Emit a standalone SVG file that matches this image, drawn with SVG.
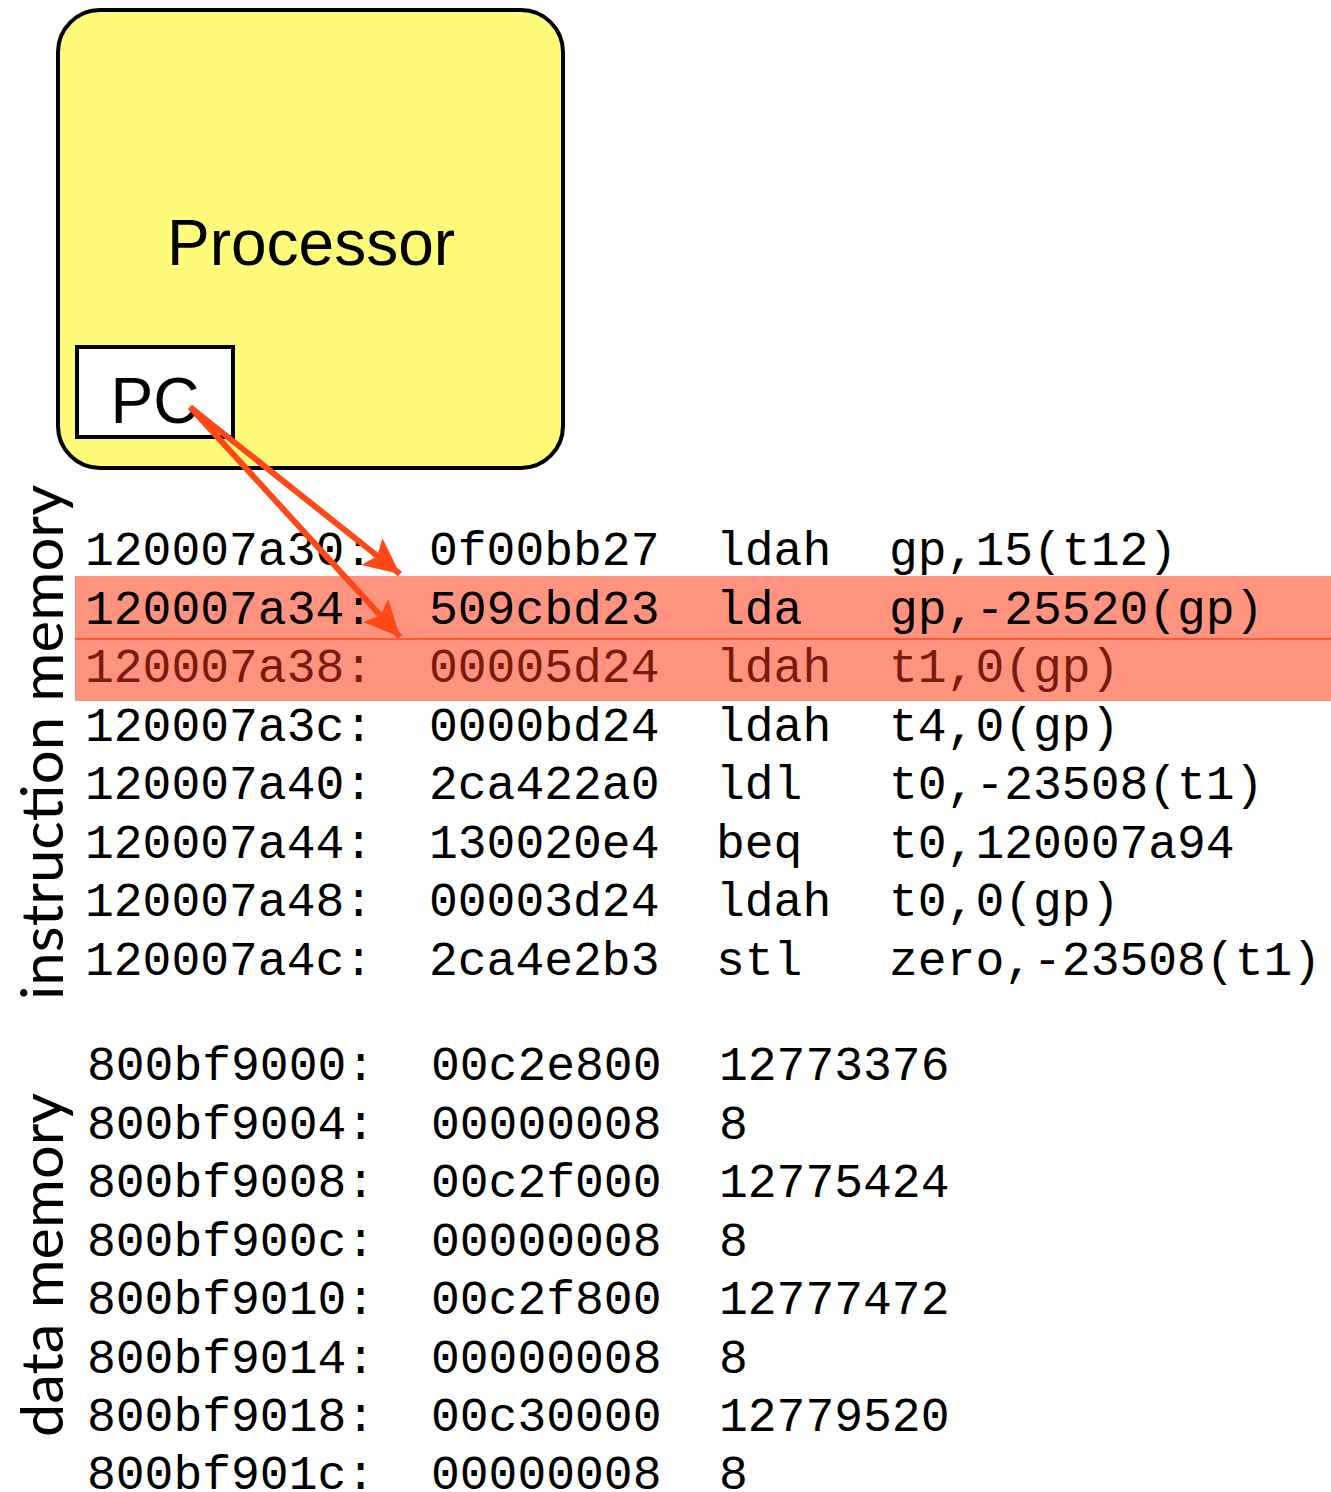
<svg xmlns="http://www.w3.org/2000/svg" width="1331" height="1492" viewBox="0 0 1331 1492">
<defs>
<style>
.mono{font-family:"Liberation Mono","Courier New",monospace;font-size:48px;fill:#000;}
.hl2{fill:#7a1a08;}
.sans{font-family:"Liberation Sans",Arial,sans-serif;fill:#000;}
.lbl{font-family:Lato,"Open Sans",sans-serif;font-size:58px;fill:#000;}
.arrow{stroke:#ff4818;stroke-width:6;fill:none;marker-end:url(#ah);}
</style>
<marker id="ah" markerUnits="userSpaceOnUse" markerWidth="40" markerHeight="36" refX="36" refY="17" orient="auto">
<path d="M0,0 L36,17 L0,34 L7,17 z" fill="#ff4818"/>
</marker>
</defs>
<rect x="75" y="576" width="1256" height="125" fill="#ff9380"/>
<line x1="75" y1="639" x2="1331" y2="639" stroke="#ff5a36" stroke-width="2"/>
<g id="processor">
<rect x="58" y="10" width="505" height="458" rx="42" ry="42" fill="#fffb7b" stroke="#000" stroke-width="4"/>
<text class="sans" x="311" y="265" font-size="64" text-anchor="middle">Processor</text>
</g>
<g id="pc">
<rect x="77" y="347" width="156" height="90" fill="#fff" stroke="#000" stroke-width="4"/>
<text class="sans" x="155" y="423" font-size="64" text-anchor="middle">PC</text>
</g>
<g id="instruction-memory">
<text class="lbl" transform="translate(63,1000) rotate(-90)" textLength="515" lengthAdjust="spacingAndGlyphs">instruction memory</text>
<text class="mono" y="565"><tspan x="85">120007a30:</tspan><tspan x="429">0f00bb27</tspan><tspan x="716">ldah</tspan><tspan x="889">gp,15(t12)</tspan></text>
<text class="mono" y="623.6"><tspan x="85">120007a34:</tspan><tspan x="429">509cbd23</tspan><tspan x="716">lda</tspan><tspan x="889">gp,-25520(gp)</tspan></text>
<text class="mono hl2" y="682.1"><tspan x="85">120007a38:</tspan><tspan x="429">00005d24</tspan><tspan x="716">ldah</tspan><tspan x="889">t1,0(gp)</tspan></text>
<text class="mono" y="740.7"><tspan x="85">120007a3c:</tspan><tspan x="429">0000bd24</tspan><tspan x="716">ldah</tspan><tspan x="889">t4,0(gp)</tspan></text>
<text class="mono" y="799.3"><tspan x="85">120007a40:</tspan><tspan x="429">2ca422a0</tspan><tspan x="716">ldl</tspan><tspan x="889">t0,-23508(t1)</tspan></text>
<text class="mono" y="857.9"><tspan x="85">120007a44:</tspan><tspan x="429">130020e4</tspan><tspan x="716">beq</tspan><tspan x="889">t0,120007a94</tspan></text>
<text class="mono" y="916.4"><tspan x="85">120007a48:</tspan><tspan x="429">00003d24</tspan><tspan x="716">ldah</tspan><tspan x="889">t0,0(gp)</tspan></text>
<text class="mono" y="975"><tspan x="85">120007a4c:</tspan><tspan x="429">2ca4e2b3</tspan><tspan x="716">stl</tspan><tspan x="889">zero,-23508(t1)</tspan></text>
</g>
<g id="data-memory">
<text class="lbl" transform="translate(63,1437) rotate(-90)" textLength="344" lengthAdjust="spacingAndGlyphs">data memory</text>
<text class="mono" y="1080"><tspan x="87">800bf9000:</tspan><tspan x="431">00c2e800</tspan><tspan x="719">12773376</tspan></text>
<text class="mono" y="1138.6"><tspan x="87">800bf9004:</tspan><tspan x="431">00000008</tspan><tspan x="719">8</tspan></text>
<text class="mono" y="1197.1"><tspan x="87">800bf9008:</tspan><tspan x="431">00c2f000</tspan><tspan x="719">12775424</tspan></text>
<text class="mono" y="1255.7"><tspan x="87">800bf900c:</tspan><tspan x="431">00000008</tspan><tspan x="719">8</tspan></text>
<text class="mono" y="1314.3"><tspan x="87">800bf9010:</tspan><tspan x="431">00c2f800</tspan><tspan x="719">12777472</tspan></text>
<text class="mono" y="1372.9"><tspan x="87">800bf9014:</tspan><tspan x="431">00000008</tspan><tspan x="719">8</tspan></text>
<text class="mono" y="1431.4"><tspan x="87">800bf9018:</tspan><tspan x="431">00c30000</tspan><tspan x="719">12779520</tspan></text>
<text class="mono" y="1489"><tspan x="87">800bf901c:</tspan><tspan x="431">00000008</tspan><tspan x="719">8</tspan></text>
</g>
<g id="connectors">
<line class="arrow" x1="190" y1="407" x2="400" y2="574"/>
<line class="arrow" x1="190" y1="407" x2="400" y2="637"/>
</g>
</svg>
